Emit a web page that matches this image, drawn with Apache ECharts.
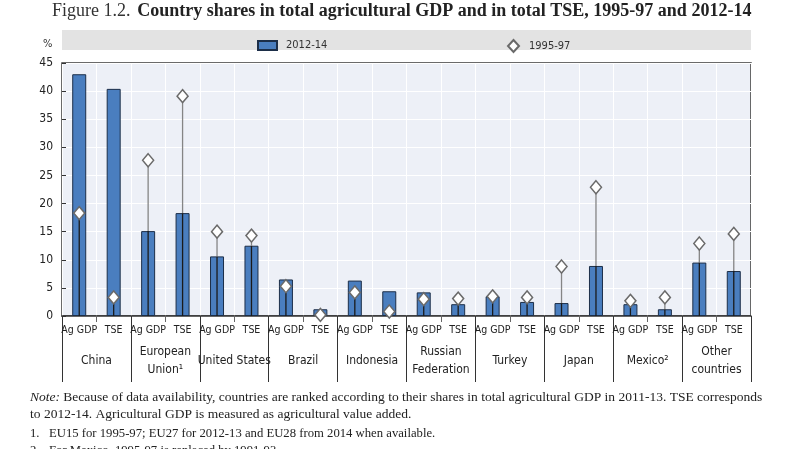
<!DOCTYPE html>
<html><head><meta charset="utf-8">
<script src="https://cdn.jsdelivr.net/npm/echarts@6/dist/echarts.min.js"></script>
<style>html,body{margin:0;padding:0;background:#fff}#c{width:800px;height:449px}</style>
</head><body><div id="c"></div>
<script>
const categories = ['Ag GDP','TSE','Ag GDP','TSE','Ag GDP','TSE','Ag GDP','TSE','Ag GDP','TSE','Ag GDP','TSE','Ag GDP','TSE','Ag GDP','TSE','Ag GDP','TSE','Ag GDP','TSE'];
const countries = ['China','European\nUnion\u00b9','United States','Brazil','Indonesia','Russian\nFederation','Turkey','Japan','Mexico\u00b2','Other\ncountries'];
const v2012 = [43.0,40.4,15.1,18.3,10.6,12.5,6.5,1.2,6.3,4.4,4.2,2.1,3.5,2.5,2.3,8.9,2.1,1.2,9.5,8.0];
const v1995 = [18.3,3.3,27.7,39.1,15.0,14.3,5.3,0.2,4.2,0.8,3.0,3.1,3.5,3.3,8.8,22.9,2.7,3.3,12.9,14.6];
const yTicks = {min:0, max:45, interval:5};

const NARROW = "'Liberation Sans Narrow','DejaVu Sans Condensed',sans-serif";
const SERIF = "'Liberation Serif','DejaVu Serif',serif";
const chart = echarts.init(document.getElementById('c'), null, {renderer:'canvas'});
const stemData = categories.map((c,i)=>[i, v2012[i], v1995[i]]);
const option = {
  animation:false,
  backgroundColor:'#fff',
  grid:{left:62, right:49, top:63, bottom:133, show:true, backgroundColor:'#edf0f7', borderColor:'#3a3a3a', borderWidth:1.5},
  graphic:[
    {type:'rect', shape:{x:62,y:30,width:689,height:20}, style:{fill:'#e3e3e3'}, z:-1},
    {type:'text', left:52, top:2, style:{text:'{a|Figure 1.2.}  {b|Country shares in total agricultural GDP and in total TSE, 1995-97 and 2012-14}', rich:{a:{fontFamily:SERIF, fontSize:18, fill:'#333'}, b:{fontFamily:SERIF, fontSize:18, fontWeight:'bold', fill:'#222'}}}},
    {type:'text', left:43, top:39, style:{text:'%', font:"11px "+NARROW, fill:'#333'}},
    {type:'text', left:30, top:389, style:{text:'{i|Note:} Because of data availability, countries are ranked according to their shares in total agricultural GDP in 2011-13. TSE corresponds\nto 2012-14. Agricultural GDP is measured as agricultural value added.', lineHeight:17, rich:{i:{fontStyle:'italic', fontFamily:SERIF, fontSize:13.5, fill:'#222'}}, font:"13.5px "+SERIF, fill:'#222'}},
    {type:'text', left:30, top:425, style:{text:'1.   EU15 for 1995-97; EU27 for 2012-13 and EU28 from 2014 when available.\n2.   For Mexico, 1995-97 is replaced by 1991-93.', lineHeight:17, font:"12.7px "+SERIF, fill:'#222'}}
  ],
  legend:[
    {data:[{name:'2012-14', icon:'rect'}], left:252, top:35, itemWidth:19, itemHeight:9, itemGap:0, textStyle:{fontFamily:NARROW, fontSize:11, color:'#333', padding:[0,0,0,4]}},
    {data:['1995-97'], left:502, top:34, itemWidth:11, itemHeight:12, textStyle:{fontFamily:NARROW, fontSize:11, color:'#333', padding:[0,0,0,5]}}
  ],
  xAxis:[
    {type:'category', data:categories, boundaryGap:true, gridIndex:0, position:'bottom', offset:0,
     axisLine:{show:true, lineStyle:{color:'#333', width:1.5}},
     axisTick:{show:true, interval:0, length:6, lineStyle:{color:'#666'}},
     axisLabel:{interval:0, margin:9, fontFamily:NARROW, fontSize:10.5, color:'#222'},
     splitLine:{show:true, interval:0, lineStyle:{color:'#ffffff', width:1}}},
    {type:'category', data:countries, boundaryGap:true, gridIndex:0, position:'bottom', offset:0,
     axisLine:{show:false},
     axisTick:{show:true, interval:0, length:66, lineStyle:{color:'#333'}},
     axisLabel:{interval:0, margin:45, verticalAlign:'middle', lineHeight:18, fontFamily:NARROW, fontSize:12, color:'#222'},
     splitLine:{show:false}}
  ],
  yAxis:{type:'value', min:yTicks.min, max:yTicks.max, interval:yTicks.interval,
    axisLine:{show:false}, axisTick:{show:true, inside:true, length:4, lineStyle:{color:'#333'}},
    axisLabel:{margin:9, fontFamily:NARROW, fontSize:12, color:'#222'},
    splitLine:{show:true, lineStyle:{color:'#ffffff', width:1}}},
  series:[
    {name:'2012-14', type:'bar', xAxisIndex:0, data:v2012, barWidth:14,
     itemStyle:{color:'#4a7ebf', borderColor:'#1c2e48', borderWidth:1}, z:2},
    {name:'stem', type:'custom', xAxisIndex:0, data:stemData, z:3, silent:true,
     encode:{x:0, y:[1,2]},
     renderItem:function(params, api){
       const i = api.value(0), b = api.value(1), d = api.value(2);
       const p0 = api.coord([i,0]);
       const pIn = api.coord([i, Math.min(b,d)]);
       const children = [{type:'line', shape:{x1:p0[0],y1:p0[1],x2:pIn[0],y2:pIn[1]}, style:{stroke:'#1a1a1a', lineWidth:1.3}}];
       if (d > b) {
         const pb = api.coord([i,b]), pd = api.coord([i,d]);
         children.push({type:'line', shape:{x1:pb[0],y1:pb[1],x2:pd[0],y2:pd[1]}, style:{stroke:'#858585', lineWidth:1.3}});
       }
       return {type:'group', children:children};
     }},
    {name:'1995-97', type:'scatter', xAxisIndex:0, data:v1995, symbol:'diamond', symbolSize:[11,13],
     itemStyle:{color:'#ffffff', borderColor:'#6a6a6a', borderWidth:1.5, opacity:1}, z:4}
  ]
};
chart.setOption(option);
</script></body></html>
